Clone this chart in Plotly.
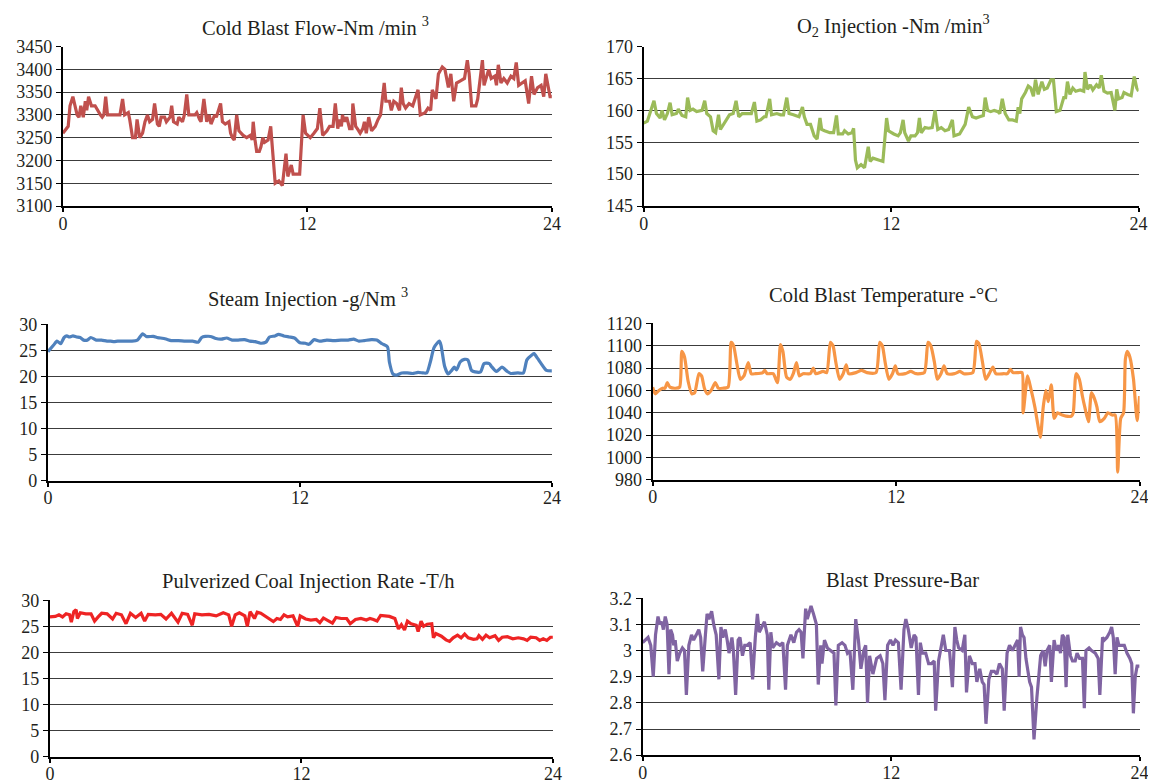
import plotly.graph_objects as go

# ---------------- data (time in hours, values as read) ----------------
flow_t = [0, 0.26, 0.35, 0.49, 0.70, 0.79, 0.88, 1.00, 1.10, 1.17, 1.26, 1.40, 1.58, 1.70, 1.84, 1.93, 2.01, 2.10, 2.19, 2.54,
          2.80, 2.93, 3.03, 3.21, 3.28, 3.42, 3.56, 3.64, 3.77, 3.91, 4.03, 4.15, 4.26, 4.40, 4.50, 4.64, 4.73, 4.82, 4.99, 5.08,
          5.26, 5.34, 5.43, 5.61, 5.69, 5.87, 5.96, 6.08, 6.18, 6.48, 6.57, 6.71, 6.78, 6.92, 7.06, 7.18, 7.27, 7.45, 7.53, 7.74,
          7.83, 7.97, 8.15, 8.23, 8.32, 8.41, 8.53, 8.64, 8.85, 9.02, 9.20, 9.29, 9.34, 9.43, 9.51, 9.64, 9.72, 9.81, 9.90, 10.07,
          10.20, 10.25, 10.34, 10.42, 10.60, 10.77, 10.95, 11.04, 11.21, 11.30, 11.62, 11.79, 11.91, 12.00, 12.14, 12.32, 12.49,
          12.61, 12.75, 12.96, 13.09, 13.26, 13.37, 13.49, 13.58, 13.67, 13.72, 13.84, 13.93, 14.07, 14.19, 14.23, 14.37, 14.45,
          14.59, 14.72, 14.80, 14.89, 15.01, 15.15, 15.33, 15.47, 15.59, 15.77, 15.85, 16.03, 16.12, 16.24, 16.38, 16.52, 16.61,
          16.70, 16.82, 16.99, 17.17, 17.43, 17.54, 17.78, 17.92, 18.05, 18.13, 18.31, 18.43, 18.62, 18.75, 18.92, 19.04, 19.18,
          19.32, 19.53, 19.71, 19.85, 19.94, 20.06, 20.27, 20.36, 20.46, 20.59, 20.67, 20.80, 20.90, 21.02, 21.20, 21.28, 21.37,
          21.50, 21.64, 21.81, 21.99, 22.13, 22.25, 22.37, 22.51, 22.69, 22.86, 23.00, 23.12, 23.30, 23.47, 23.60, 23.70, 23.91, 24]
flow_v = [3260, 3275, 3320, 3340, 3300, 3295, 3320, 3295, 3330, 3310, 3340, 3320, 3320, 3310, 3300, 3295, 3300, 3340, 3300, 3300,
          3300, 3335, 3300, 3305, 3290, 3250, 3250, 3290, 3250, 3260, 3285, 3300, 3285, 3290, 3325, 3280, 3275, 3295, 3295, 3285,
          3295, 3320, 3285, 3280, 3295, 3285, 3300, 3345, 3300, 3300, 3305, 3290, 3285, 3335, 3285, 3300, 3280, 3300, 3295, 3325,
          3285, 3280, 3285, 3260, 3250, 3245, 3300, 3265, 3255, 3250, 3255, 3245, 3285, 3245, 3220, 3220, 3230, 3250, 3240, 3245,
          3275, 3245, 3200, 3150, 3155, 3145, 3215, 3165, 3190, 3170, 3170, 3300, 3260, 3255, 3250, 3260, 3270,
          3315, 3255, 3265, 3275, 3275, 3325, 3270, 3290, 3275, 3300, 3285, 3295, 3270, 3270, 3325, 3275, 3270,
          3260, 3270, 3285, 3260, 3295, 3265, 3275, 3290, 3300, 3370, 3330, 3330, 3310, 3330, 3325, 3310, 3360,
          3325, 3315, 3325, 3320, 3355, 3300, 3305, 3315, 3310, 3355, 3335, 3390, 3405, 3400, 3360, 3390, 3330,
          3370, 3375, 3380, 3420, 3390, 3320, 3320, 3335, 3370, 3420, 3365, 3385, 3400, 3380, 3385, 3365, 3410,
          3370, 3380, 3370, 3385, 3380, 3415, 3365, 3370, 3375, 3325, 3385, 3345, 3360, 3365, 3340, 3390, 3340, 3340]

o2_t = [0, 0.18, 0.35, 0.50, 0.62, 0.80, 0.89, 1.01, 1.15, 1.28, 1.38, 1.59, 1.68, 1.86, 2.04, 2.13, 2.25, 2.39, 2.57, 2.83,
        2.96, 3.06, 3.24, 3.37, 3.49, 3.63, 3.72, 3.90, 4.07, 4.16, 4.34, 4.48, 4.61, 4.78, 5.05, 5.22, 5.37, 5.49, 5.67, 5.84,
        5.93, 6.11, 6.20, 6.46, 6.64, 6.78, 6.94, 7.05, 7.26, 7.53, 7.70, 7.79, 7.92, 8.09, 8.27, 8.41, 8.55, 8.63, 8.77, 9.03,
        9.21, 9.35, 9.44, 9.65, 9.74, 9.92, 10.10, 10.18, 10.27, 10.36, 10.54, 10.71, 10.89, 10.98, 11.12, 11.34, 11.60, 11.78,
        11.87, 12.13, 12.34, 12.45, 12.58, 12.66, 12.84, 12.96, 13.16, 13.28, 13.37, 13.46, 13.64, 13.82, 13.99, 14.13, 14.26,
        14.43, 14.61, 14.79, 14.97, 15.05, 15.32, 15.59, 15.76, 15.94, 16.12, 16.29, 16.47, 16.56, 16.68, 16.83, 17.00, 17.18,
        17.27, 17.39, 17.53, 17.71, 17.89, 18.07, 18.16, 18.24, 18.33, 18.51, 18.65, 18.77, 18.90, 19.00, 19.13, 19.31, 19.43,
        19.57, 19.75, 19.87, 20.01, 20.19, 20.37, 20.46, 20.55, 20.67, 20.81, 20.95, 21.17, 21.34, 21.40, 21.52, 21.66, 21.78,
        21.96, 22.09, 22.19, 22.32, 22.49, 22.67, 22.85, 22.94, 23.03, 23.20, 23.29, 23.47, 23.64, 23.79, 23.91, 24]
o2_v = [158, 158.3, 160, 161.5, 159.5, 158.8, 160, 158.5, 159.5, 161.2, 159.3, 159.5, 160.2, 159.2, 159, 162, 160, 160.2, 159.8, 160,
        161.5, 159.5, 159, 156.8, 156.5, 159.3, 157, 158, 159, 159.3, 159.5, 161.5, 159, 159.5, 159.5, 159.5, 161.3, 158.3, 158.5, 159,
        159, 161.8, 159.3, 159.5, 159.3, 159.3, 162, 159.5, 159.3, 159, 160.5, 159, 157.8, 157.8, 156, 155.5, 158.8, 157, 156.8, 156.5,
        156.5, 159.2, 156.3, 156.3, 156.8, 156.3, 156.5, 157.2, 152.2, 151, 151.5, 151, 154.3, 152, 152.5, 152.3, 152, 158.8,
        156.8, 156.3, 156, 156.5, 158.5, 156.5, 155.2, 156, 156, 156.5, 158.8, 156.5, 157.3, 157.2, 157.3, 160, 157,
        157.3, 156.8, 157, 158.5, 156, 156.3, 157.8, 160.5, 159, 158.8, 159, 159.2, 162, 160, 159.8, 160, 159.8,
        159.5, 161.8, 159.5, 158.5, 158.5, 158.3, 160.5, 159.5, 161.8, 162.8, 163.8, 163.5, 162.2, 164.8, 162.5, 164.5, 163.3,
        163.5, 164.8, 164.8, 159.8, 160, 162, 162, 164.5, 162.5, 163.5, 163, 163.2, 163, 166, 163.3, 164, 163.2,
        164, 163.5, 165.5, 163, 162.7, 162.8, 160, 163.3, 161.8, 162, 162.8, 162.5, 162.3, 165.3, 163.5, 163]

steam_t = [0, 0.26, 0.43, 0.60, 0.77, 0.90, 1.02, 1.19, 1.36, 1.53, 1.70, 1.87, 2.04, 2.30, 2.55, 2.81, 2.98, 3.15, 3.32, 3.66,
           4.00, 4.26, 4.51, 4.68, 5.02, 5.19, 5.36, 5.62, 5.87, 6.21, 6.55, 6.89, 7.15, 7.32, 7.49, 7.74, 8.00, 8.26, 8.51, 8.77,
           9.02, 9.36, 9.62, 9.87, 10.13, 10.38, 10.55, 10.81, 10.98, 11.23, 11.49, 11.74, 12.00, 12.26, 12.43, 12.68, 12.94, 13.28,
           13.62, 13.96, 14.30, 14.55, 14.81, 15.06, 15.40, 15.66, 15.91, 16.17, 16.26, 16.43, 16.60, 16.85, 17.11, 17.36, 17.62,
           17.87, 18.04, 18.21, 18.38, 18.55, 18.64, 18.72, 18.89, 19.06, 19.23, 19.35, 19.46, 19.63, 19.83, 20.00, 20.17, 20.34,
           20.60, 20.77, 21.02, 21.11, 21.36, 21.62, 21.87, 22.04, 22.38, 22.64, 22.81, 23.06, 23.15, 23.32, 23.49, 23.74, 24]
steam_v = [24.8, 26, 26.8, 26.3, 27.5, 27.8, 27.6, 27.8, 27.6, 27.5, 27, 27, 27.5, 27, 27, 26.8, 26.8, 26.7, 26.8, 26.8,
           26.8, 27, 28.2, 27.7, 27.7, 27.5, 27.4, 27.2, 26.9, 26.9, 26.8, 26.8, 26.6, 27.5, 27.7, 27.7, 27.3, 27.2, 27.4, 27,
           27, 27.1, 26.8, 26.7, 26.4, 26.6, 27.6, 27.8, 28.1, 27.8, 27.6, 27.4, 26.5, 26.4, 26.2, 27.1, 26.8, 27,
           26.9, 27, 27, 27.2, 26.8, 26.9, 27.1, 27, 26.3, 25.7, 22.8, 20.5, 20.3, 20.7, 20.7, 20.6, 20.8,
           20.7, 20.7, 22.8, 25.5, 26.5, 26.8, 26, 22, 20.5, 21.2, 21.8, 21.3, 22.8, 23.3, 23.2, 21.2, 20.9,
           20.9, 22.5, 22.5, 22, 21, 21.8, 21, 20.6, 20.7, 20.7, 23.2, 24.2, 24.4, 23.5, 22.5, 21.2, 21.1]

temp_t = [0, 0.13, 0.31, 0.49, 0.61, 0.72, 0.85, 1.12, 1.33, 1.44, 1.57, 1.75, 1.93, 2.07, 2.28, 2.41, 2.55, 2.70, 2.88, 3.09,
          3.24, 3.45, 3.72, 3.87, 3.99, 4.14, 4.32, 4.50, 4.71, 4.86, 5.07, 5.43, 5.52, 5.65, 5.94, 6.15, 6.30, 6.42, 6.60, 6.78,
          6.93, 7.09, 7.23, 7.41, 7.77, 7.92, 8.04, 8.40, 8.58, 8.76, 8.89, 9.03, 9.21, 9.39, 9.54, 9.66, 10.02, 10.29, 10.56,
          11.01, 11.19, 11.32, 11.46, 11.64, 11.82, 11.96, 12.09, 12.45, 12.72, 12.99, 13.39, 13.57, 13.71, 13.89, 14.03, 14.21,
          14.36, 14.52, 14.88, 15.15, 15.33, 15.78, 15.96, 16.08, 16.26, 16.41, 16.59, 16.77, 16.91, 17.31, 17.49, 17.63, 17.76,
          18.03, 18.21, 18.26, 18.48, 18.66, 18.84, 18.98, 19.11, 19.25, 19.38, 19.50, 19.65, 19.79, 19.95, 20.19, 20.37, 20.64,
          20.73, 20.87, 21.03, 21.18, 21.30, 21.48, 21.63, 21.77, 21.90, 22.04, 22.26, 22.44, 22.65, 22.80, 22.92, 23.07, 23.21,
          23.30, 23.39, 23.52, 23.70, 23.88, 24]
temp_v = [1063, 1057, 1060, 1062, 1062, 1067, 1063, 1062, 1063, 1095, 1090, 1068, 1057, 1058, 1075, 1073, 1062, 1057, 1060, 1067,
          1062, 1062, 1063, 1103, 1100, 1085, 1070, 1073, 1085, 1075, 1075, 1076, 1078, 1075, 1075, 1067, 1101, 1095, 1072, 1070,
          1075, 1085, 1073, 1075, 1075, 1080, 1075, 1077, 1076, 1103, 1100, 1085, 1070, 1075, 1083, 1075, 1076, 1078, 1076,
          1076, 1103, 1100, 1085, 1070, 1075, 1082, 1075, 1075, 1077, 1075, 1076, 1103, 1100, 1085, 1070, 1075,
          1082, 1075, 1075, 1077, 1075, 1076, 1104, 1102, 1085, 1070, 1075, 1081, 1075, 1075, 1075, 1079, 1076,
          1076, 1076, 1040, 1073, 1060, 1045, 1030, 1018, 1045, 1060, 1050, 1065, 1035, 1040, 1038, 1037, 1037,
          1040, 1075, 1070, 1055, 1045, 1032, 1058, 1053, 1045, 1032, 1035, 1040, 1038, 1038, 987, 1035, 1040,
          1088, 1095, 1090, 1070, 1033, 1055]

coal_t = [0, 0.26, 0.43, 0.60, 0.77, 0.94, 1.02, 1.14, 1.25, 1.31, 1.45, 1.71, 1.96, 2.13, 2.30, 2.47, 2.73, 2.99, 3.16, 3.41,
          3.63, 3.84, 4.09, 4.35, 4.52, 4.69, 5.03, 5.29, 5.54, 5.80, 6.11, 6.31, 6.57, 6.79, 6.91, 7.25, 7.59, 7.93, 8.27, 8.53,
          8.67, 8.84, 9.04, 9.30, 9.42, 9.55, 9.76, 9.89, 10.06, 10.32, 10.49, 10.66, 10.83, 11.00, 11.17, 11.34, 11.60, 11.82,
          11.94, 12.20, 12.45, 12.71, 12.88, 13.05, 13.31, 13.48, 13.65, 13.90, 14.16, 14.33, 14.58, 14.84, 15.10, 15.27, 15.44,
          15.61, 15.78, 15.95, 16.20, 16.46, 16.63, 16.77, 16.92, 17.06, 17.23, 17.48, 17.57, 17.71, 17.83, 18.00, 18.22, 18.30,
          18.42, 18.68, 18.90, 19.07, 19.24, 19.45, 19.62, 19.79, 19.96, 20.21, 20.38, 20.47, 20.64, 20.81, 20.98, 21.24, 21.41,
          21.58, 21.83, 22.09, 22.35, 22.60, 22.77, 22.94, 23.20, 23.37, 23.54, 23.71, 23.88, 24]
coal_v = [26.8, 26.9, 27.2, 26.8, 27.4, 27.2, 25.8, 27.8, 28.2, 26.5, 27.6, 27.4, 27.4, 26, 26.8, 27.5, 27.4, 26.4, 27.5, 27.2,
          25.5, 27.5, 26.7, 27.5, 26, 27.3, 27.2, 27.3, 26.4, 27.5, 25.8, 27.5, 27.3, 25.2, 27.4, 27.2, 27.3, 27, 27.6, 27.2,
          25, 27.2, 27.6, 27, 25, 27.8, 26.5, 27.7, 27.5, 26.8, 26.3, 25.9, 26.5, 26.3, 27.2, 26.8, 27.0, 25,
          27, 26.4, 26.2, 26.3, 25.7, 26.6, 26, 25.6, 26.7, 26.5, 26.5, 25.5, 26.3, 26.5, 26.2, 26.5, 26.3,
          26, 27.1, 27, 26.9, 26.5, 24.5, 25.3, 24.3, 26, 25.5, 25.2, 24, 26, 25, 25.4, 25.5, 22.8,
          23.6, 23.1, 22.4, 22.1, 22.8, 23.3, 22.8, 23.5, 22.8, 22.5, 22.6, 23.2, 22.5, 23.3, 22.8, 23.2, 22.3,
          22.9, 23.0, 22.6, 22.8, 22.6, 22.3, 22.9, 22.8, 22.3, 22.6, 22.3, 22.9, 22.9]

pres_t = [0, 0.12, 0.26, 0.39, 0.51, 0.62, 0.74, 0.83, 0.92, 1.00, 1.09, 1.18, 1.27, 1.35, 1.44, 1.50, 1.57, 1.67, 1.79, 1.92,
          2.02, 2.11, 2.23, 2.36, 2.46, 2.59, 2.71, 2.80, 2.90, 3.03, 3.11, 3.20, 3.33, 3.43, 3.55, 3.68, 3.78, 3.87, 3.99, 4.08,
          4.17, 4.31, 4.38, 4.49, 4.61, 4.70, 4.82, 4.93, 5.05, 5.19, 5.31, 5.44, 5.54, 5.63, 5.75, 5.88, 6.02, 6.09, 6.19, 6.28,
          6.46, 6.63, 6.77, 6.90, 6.99, 7.16, 7.30, 7.43, 7.55, 7.65, 7.74, 7.87, 7.95, 8.04, 8.13, 8.25, 8.39, 8.48, 8.60, 8.66,
          8.78, 8.92, 9.10, 9.24, 9.33, 9.45, 9.63, 9.77, 9.89, 10.01, 10.15, 10.29, 10.42, 10.54, 10.68, 10.77, 10.86, 10.96,
          11.12, 11.30, 11.47, 11.60, 11.70, 11.83, 11.97, 12.09, 12.21, 12.35, 12.48, 12.62, 12.71, 12.83, 12.97, 13.11, 13.20,
          13.32, 13.41, 13.50, 13.67, 13.81, 13.94, 14.08, 14.15, 14.29, 14.43, 14.52, 14.64, 14.82, 14.96, 15.08, 15.17, 15.26,
          15.43, 15.56, 15.64, 15.78, 15.92, 16.05, 16.14, 16.28, 16.40, 16.49, 16.58, 16.72, 16.84, 16.98, 17.11, 17.23, 17.37,
          17.46, 17.60, 17.72, 17.86, 17.98, 18.11, 18.18, 18.25, 18.34, 18.42, 18.51, 18.60, 18.69, 18.78, 18.90, 19.04, 19.22,
          19.34, 19.44, 19.53, 19.66, 19.74, 19.87, 19.97, 20.10, 20.18, 20.27, 20.36, 20.45, 20.53, 20.66, 20.76, 20.89, 20.98,
          21.10, 21.24, 21.33, 21.41, 21.56, 21.68, 21.86, 22.00, 22.08, 22.21, 22.30, 22.42, 22.56, 22.65, 22.73, 22.82, 22.91,
          23.00, 23.14, 23.26, 23.39, 23.53, 23.62, 23.70, 23.79, 23.88, 24]
pres_v = [3.03, 3.04, 3.05, 3.02, 2.90, 3.06, 3.13, 3.10, 3.11, 3.08, 3.13, 3.10, 2.91, 3.08, 3.06, 3.02, 3.04, 2.96, 2.99, 3.01,
          3.00, 2.83, 3.02, 3.06, 3.04, 3.06, 3.08, 3.05, 2.92, 3.06, 3.14, 3.12, 3.15, 3.10, 3.06, 2.89, 3.09, 3.05, 3.08, 3.04,
          2.99, 3.05, 3.00, 2.83, 3.04, 3.05, 2.98, 3.02, 3.02, 3.03, 2.89, 3.05, 3.14, 3.07, 3.09, 3.11, 3.06, 2.85, 3.07, 3.01,
          3.03, 3.02, 3.03, 2.85, 3.02, 3.06, 3.03, 3.07, 3.08, 3.07, 2.97, 3.16, 3.12, 3.15, 3.17, 3.14, 3.10, 2.87, 3.02, 2.95,
          3.04, 3.01, 3.00, 2.99, 2.79, 3.02, 3.03, 3.02, 2.99, 3.00, 2.85, 3.12, 3.04, 2.93, 3.00, 3.02, 2.80, 2.98,
          2.91, 2.97, 2.98, 2.95, 2.81, 3.02, 3.04, 3.02, 3.04, 3.03, 2.85, 3.08, 3.12, 3.08, 3.01, 3.06, 3.05,
          2.83, 3.03, 2.99, 2.99, 2.95, 2.95, 2.96, 2.77, 2.96, 3.02, 3.06, 3.00, 3.00, 2.86, 3.09, 3.04, 3.01,
          3.00, 3.06, 2.84, 2.98, 2.95, 2.95, 2.88, 2.93, 2.88, 2.87, 2.72, 2.89, 2.92, 2.92, 2.91, 2.95, 2.93,
          2.77, 2.99, 3.02, 3.00, 3.02, 3.04, 2.90, 3.09, 3.06, 3.05, 2.97, 2.93, 2.88, 2.86, 2.66, 2.82, 2.98,
          3.00, 2.94, 3.00, 3.02, 2.88, 3.04, 3.00, 3.02, 2.99, 3.06, 3.05, 2.86, 3.06, 2.98, 2.96, 2.96, 2.99,
          2.97, 2.97, 2.78, 3.00, 3.01, 3.00, 2.99, 2.97, 2.83, 3.05, 3.04, 3.05, 3.07, 3.09, 3.05, 2.91, 3.05,
          3.02, 3.02, 3.02, 2.99, 2.97, 2.95, 2.76, 2.90, 2.94, 2.94]

titles = ["Cold Blast Flow-Nm /min <sup>3</sup>", "O<sub>2</sub> Injection -Nm /min<sup>3</sup>",
          "Steam Injection -g/Nm <sup>3</sup>", "Cold Blast Temperature -°C",
          "Pulverized Coal Injection Rate -T/h", "Blast Pressure-Bar"]
x_ticks = [0, 12, 24]
y_ticks = [
    [3100, 3150, 3200, 3250, 3300, 3350, 3400, 3450],
    [145, 150, 155, 160, 165, 170],
    [0, 5, 10, 15, 20, 25, 30],
    [980, 1000, 1020, 1040, 1060, 1080, 1100, 1120],
    [0, 5, 10, 15, 20, 25, 30],
    [2.6, 2.7, 2.8, 2.9, 3.0, 3.1, 3.2],
]
y_ticktext = [
    [str(v) for v in y_ticks[0]], [str(v) for v in y_ticks[1]], [str(v) for v in y_ticks[2]],
    [str(v) for v in y_ticks[3]], [str(v) for v in y_ticks[4]],
    ["2.6", "2.7", "2.8", "2.9", "3", "3.1", "3.2"],
]

# ---------------- styling / layout ----------------
series = [(flow_t, flow_v), (o2_t, o2_v), (steam_t, steam_v), (temp_t, temp_v), (coal_t, coal_v), (pres_t, pres_v)]
colors = ["#C0504D", "#9BBB59", "#4F81BD", "#F79646", "#EE2424", "#8064A2"]
shapes_ = ["linear", "linear", "spline", "spline", "linear", "linear"]
W, H = 1156, 783
# plot-area boxes in pixels: (left, right, top, bottom)
boxes = [(50.5, 545.5, 29.3, 193.0), (638.4, 1139.4, 29.3, 193.0),
         (35.4, 545.5, 314.5, 475.0), (647.5, 1140.4, 313.4, 474.0),
         (37.4, 546.5, 597.5, 758.0), (637.4, 1140.4, 595.4, 756.5)]
title_pos = [(306, 8), (891, 8), (299, 286.7), (881, 285), (299, 578), (900, 577)]

FONT = "Liberation Serif"
TXT = "#231F20"
TICK_SIZE = 18
TITLE_SIZE = 20.5

fig = go.Figure()
layout = dict(width=W, height=H, autosize=False, margin=dict(l=0, r=0, t=0, b=0),
              paper_bgcolor="white", plot_bgcolor="white", showlegend=False,
              font=dict(family=FONT, size=TICK_SIZE, color=TXT))
annotations = []
for i, ((t, v), col, shp, box, tp, title) in enumerate(zip(series, colors, shapes_, boxes, title_pos, titles)):
    k = "" if i == 0 else str(i + 1)
    fig.add_trace(go.Scatter(x=t, y=v, mode="lines", xaxis="x" + k, yaxis="y" + k,
                             line=dict(color=col, width=3.2, shape=shp, smoothing=0.6)))
    l, r, top, bot = box
    layout["xaxis" + k] = dict(domain=[l / W, r / W], anchor="y" + k, range=[0, 24],
                               tickvals=x_ticks, ticktext=[str(x) for x in x_ticks],
                               showgrid=False, zeroline=False, showline=True, linecolor="black",
                               linewidth=2, ticks="outside", ticklen=4, tickwidth=1.5, tickcolor="black",
                               ticklabelstandoff=-4,
                               tickfont=dict(family=FONT, size=TICK_SIZE, color=TXT))
    yt = y_ticks[i]
    layout["yaxis" + k] = dict(domain=[1 - bot / H, 1 - top / H], anchor="x" + k, range=[yt[0], yt[-1]],
                               tickvals=yt, ticktext=y_ticktext[i],
                               showgrid=True, gridcolor="#3C3C3C", gridwidth=1, zeroline=False,
                               showline=True, linecolor="black", linewidth=2,
                               ticks="outside", ticklen=5, tickwidth=1, tickcolor="black",
                               tickfont=dict(family=FONT, size=TICK_SIZE, color=TXT))
    annotations.append(dict(text=title, x=tp[0] / W, y=1 - tp[1] / H, xref="paper", yref="paper",
                            xanchor="center", yanchor="middle", showarrow=False,
                            font=dict(family=FONT, size=TITLE_SIZE, color=TXT)))
layout["annotations"] = annotations
fig.update_layout(**layout)
fig.write_html("out.html")
